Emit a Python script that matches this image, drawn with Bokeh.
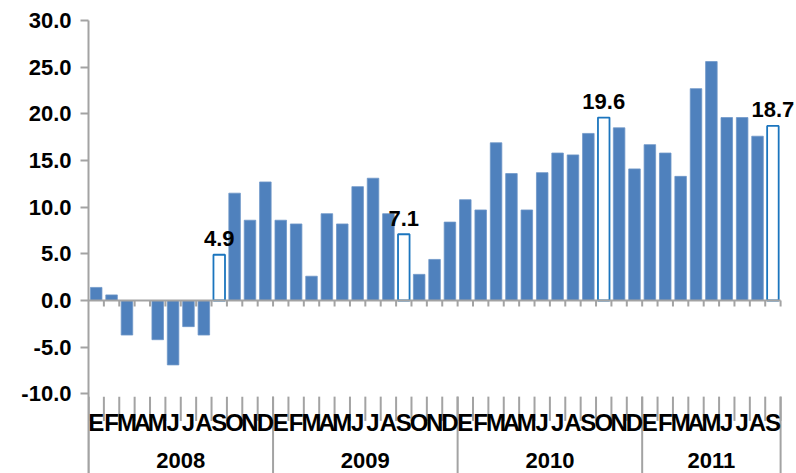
from bokeh.plotting import figure
from bokeh.models import ColumnDataSource, FixedTicker, NumeralTickFormatter
from bokeh.core.properties import value
from bokeh.embed import file_html
from bokeh.resources import INLINE

# ---- data ----
years = ["2008", "2009", "2010", "2011"]
month_letters = ["E", "F", "M", "A", "M", "J", "J", "A", "S", "O", "N", "D"]
values_2008 = [1.4, 0.6, -3.7, 0.0, -4.2, -6.9, -2.8, -3.7, 4.9, 11.5, 8.6, 12.7]
values_2009 = [8.6, 8.2, 2.6, 9.3, 8.2, 12.2, 13.1, 9.3, 7.1, 2.8, 4.4, 8.4]
values_2010 = [10.8, 9.7, 16.9, 13.6, 9.7, 13.7, 15.8, 15.6, 17.9, 19.6, 18.5, 14.1]
values_2011 = [16.7, 15.8, 13.3, 22.7, 25.6, 19.6, 19.6, 17.6, 18.7]
highlighted = [("2008", 8), ("2009", 8), ("2010", 9), ("2011", 8)]
y_ticks = [-10, -5, 0, 5, 10, 15, 20, 25, 30]

series = [values_2008, values_2009, values_2010, values_2011]

# ---- build table ----
xs, vals, mlabels, is_hi = [], [], [], []
year_start = []
i = 0
for yr, vals_y in zip(years, series):
    year_start.append(i)
    for m, v in enumerate(vals_y):
        xs.append(i + 0.5)
        vals.append(v)
        mlabels.append(month_letters[m])
        is_hi.append((yr, m) in highlighted)
        i += 1
n = i
year_start.append(n)

normal = ColumnDataSource(dict(x=[x for x, h in zip(xs, is_hi) if not h],
                               top=[v for v, h in zip(vals, is_hi) if not h]))
hi = ColumnDataSource(dict(x=[x for x, h in zip(xs, is_hi) if h],
                           top=[v for v, h in zip(vals, is_hi) if h],
                           lab=["%.1f" % v for v, h in zip(vals, is_hi) if h]))

FONT = value("Liberation Sans")
GRAY = "#A3A3A3"

W, H = 796, 473
LEFT = 88
px_per_unit = 280 / 30.0
y_top = 30 + 20 / px_per_unit
y_bot = y_top - H / px_per_unit
x_right = (W - LEFT) / 15.38

p = figure(width=W, height=H, output_backend="svg", toolbar_location=None,
           x_range=(0, x_right), y_range=(y_bot, y_top),
           x_axis_location=None,
           min_border_left=LEFT, min_border_right=0, min_border_top=0, min_border_bottom=0)
p.outline_line_color = None
p.xgrid.visible = False
p.ygrid.visible = False

# y axis
p.yaxis.ticker = FixedTicker(ticks=y_ticks)
p.yaxis.formatter = NumeralTickFormatter(format="0.0")
p.yaxis.bounds = (y_bot - 5, 30)
p.yaxis.axis_line_color = GRAY
p.yaxis.axis_line_width = 2
p.yaxis.major_tick_line_color = GRAY
p.yaxis.major_tick_line_width = 2
p.yaxis.major_tick_out = 8
p.yaxis.major_tick_in = 0
p.yaxis.minor_tick_line_color = None
p.yaxis.major_label_standoff = 9
p.yaxis.major_label_text_font = "Liberation Sans"
p.yaxis.major_label_text_font_style = "bold"
p.yaxis.major_label_text_font_size = "22px"
p.yaxis.major_label_text_color = "black"

# bars
p.vbar(x="x", top="top", bottom=0, width=0.75, source=normal,
       fill_color="#4F81BD", line_color="#6E97C8", line_width=0.8)
p.vbar(x="x", top="top", bottom=0, width=0.75, source=hi,
       fill_color="white", line_color="#1B75BE", line_width=1.8)

# zero line with ticks
bounds = list(range(0, n + 1))
p.segment(x0=[0], y0=[0], x1=[n], y1=[0], line_color=GRAY, line_width=2)
p.segment(x0=bounds[1:], y0=[0] * n, x1=bounds[1:], y1=[-6 / px_per_unit] * n,
          line_color=GRAY, line_width=2)

# bottom category ticks
p.segment(x0=bounds, y0=[-10.3] * (n + 1), x1=bounds, y1=[-12.9] * (n + 1),
          line_color=GRAY, line_width=2)
p.segment(x0=year_start, y0=[-10.3] * len(year_start), x1=year_start,
          y1=[y_bot - 1] * len(year_start), line_color=GRAY, line_width=2)

# month labels
p.text(x=xs, y=[-13.1] * n, text=mlabels, text_align="center", text_baseline="middle",
       text_font=FONT, text_font_style="bold", text_font_size="24px", text_color="black")

# year labels
yc = [(a + b) / 2 for a, b in zip(year_start[:-1], year_start[1:])]
p.text(x=yc, y=[-17.1] * len(years), text=years, text_align="center", text_baseline="middle",
       text_font=FONT, text_font_style="bold", text_font_size="22px", text_color="black")

# value labels for highlighted bars
p.text(x="x", y="top", text="lab", source=hi, text_align="center", text_baseline="alphabetic",
       y_offset=-16, text_font=FONT, text_font_style="bold", text_font_size="22px",
       text_color="black")

open("out.html", "w").write(file_html(p, INLINE))
